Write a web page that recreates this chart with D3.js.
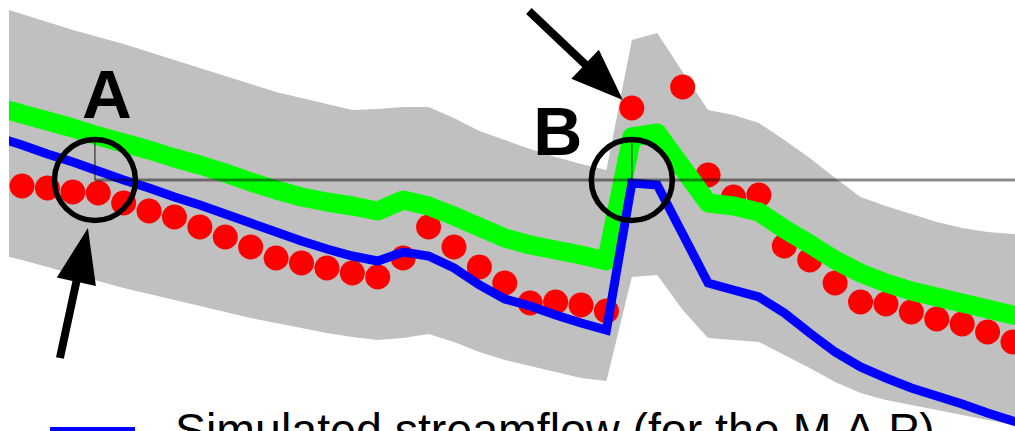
<!DOCTYPE html>
<html>
<head>
<meta charset="utf-8">
<script src="https://cdn.jsdelivr.net/npm/d3@7"></script>
<style>
  html, body { margin: 0; padding: 0; background: #fff; }
  svg { display: block; }
</style>
</head>
<body>
<svg id="chart" width="1015" height="431"></svg>
<script>
// ---- data: daily values, day -1 .. 40 ----
const days = d3.range(-1, 41);

// ensemble spread (upper / lower envelope)
const bandUpper = [43.4, 42.6, 41.8, 41.0, 40.3, 39.6, 38.8, 38.0, 37.2, 36.4, 35.6, 34.8, 34.2, 33.6,
  33.0, 33.1, 33.3, 33.3, 32.2, 30.9, 30.0, 29.1, 28.3, 27.6, 27.0, 40.0, 40.7, 36.8, 33.0, 32.5,
  31.7, 30.0, 28.2, 26.2, 24.3, 23.4, 22.6, 21.8, 21.2, 20.8, 20.6, 20.5];
const bandLower = [18.6, 18.0, 17.3, 16.6, 15.9, 15.2, 14.6, 14.0, 13.4, 12.8, 12.2, 11.7, 11.2, 10.7,
  10.3, 10.0, 10.2, 10.6, 9.8, 8.8, 8.0, 7.4, 6.8, 6.2, 5.9, 16.3, 16.5, 13.0, 10.2, 10.0,
  9.8, 8.5, 7.2, 5.8, 4.7, 4.0, 3.5, 3.0, 2.5, 2.0, 1.5, 1.0];

// ensemble mean (green)
const ensembleMean = [33.3, 32.6, 31.9, 31.2, 30.4, 29.7, 29.0, 28.2, 27.5, 26.7, 25.8, 25.0, 24.3, 23.8,
  23.4, 22.9, 24.0, 23.4, 22.4, 21.3, 20.2, 19.5, 19.0, 18.5, 17.9, 30.3, 30.7, 27.2, 23.7, 23.4,
  22.8, 21.1, 19.6, 18.0, 16.7, 15.7, 14.9, 14.3, 13.7, 13.1, 12.5, 12.0];

// simulated streamflow for the M.A.P (blue)
const mapFlow = [30.3, 29.5, 28.6, 27.8, 26.9, 26.0, 25.2, 24.3, 23.5, 22.6, 21.7, 20.8, 19.9, 19.1,
  18.4, 17.9, 18.8, 18.4, 17.2, 15.5, 14.1, 13.4, 12.5, 11.7, 11.0, 25.7, 25.5, 20.6, 15.7, 15.0,
  14.3, 12.7, 10.7, 8.8, 7.3, 6.2, 5.2, 4.4, 3.6, 2.7, 1.9, 1.2];

// observed streamflow, days 0 .. 39 (no record on day 25)
const obsDays = d3.range(0, 40);
const observed = [25.4, 25.2, 24.8, 24.7, 23.7, 22.9, 22.3, 21.3, 20.3, 19.3, 18.2, 17.7, 17.2, 16.7,
  16.3, 18.2, 21.3, 19.3, 17.3, 15.7, 13.7, 13.8, 13.5, 12.9, 33.2, null, 35.3, 26.5, 24.3, 24.5,
  19.4, 18.0, 15.7, 13.8, 13.6, 12.8, 12.1, 11.6, 10.8, 9.8];

// alert threshold and highlighted events
const threshold = 26.0;
const markerTop = 30.0;
const eventDays = [2.87, 24];
const eventLabels = ["A", "B"];
const legendLabels = ["Simulated streamflow (for the M.A.P)"];

// ---- drawing ----
const W = 1015, H = 431;
const svg = d3.select("#chart");
svg.append("rect").attr("width", W).attr("height", H).attr("fill", "#fff");

const x = d3.scaleLinear().domain([0, 39]).range([22, 1013]);
const y = d3.scaleLinear().domain([0, 44]).range([440, 0]);

svg.append("defs").append("clipPath").attr("id", "plot-clip")
  .append("rect").attr("x", 9).attr("y", 0).attr("width", W - 9).attr("height", H);

const plot = svg.append("g").attr("clip-path", "url(#plot-clip)");

const band = days.map((d, i) => ({ d, lo: bandLower[i], hi: bandUpper[i] }));
plot.append("path")
  .datum(band)
  .attr("fill", "#c0c0c0")
  .attr("d", d3.area().x(p => x(p.d)).y0(p => y(p.lo)).y1(p => y(p.hi)));

const obs = obsDays.map((d, i) => ({ d, v: observed[i] })).filter(p => p.v != null);
plot.append("g").selectAll("circle")
  .data(obs).join("circle")
  .attr("cx", p => x(p.d))
  .attr("cy", p => y(p.v))
  .attr("r", 12.5)
  .attr("fill", "#ff0000");

const line = d3.line().x(p => x(p.d)).y(p => y(p.v));

plot.append("path")
  .datum(days.map((d, i) => ({ d, v: ensembleMean[i] })))
  .attr("fill", "none")
  .attr("stroke", "#00ff00")
  .attr("stroke-width", 19)
  .attr("stroke-linejoin", "round")
  .attr("d", line);

plot.append("path")
  .datum(days.map((d, i) => ({ d, v: mapFlow[i] })))
  .attr("fill", "none")
  .attr("stroke", "#0000ff")
  .attr("stroke-width", 9)
  .attr("stroke-linejoin", "miter")
  .attr("d", line);

// threshold line starting at the first event
plot.append("line")
  .attr("x1", x(eventDays[0])).attr("x2", W)
  .attr("y1", y(threshold)).attr("y2", y(threshold))
  .attr("stroke", "#000").attr("stroke-opacity", 0.45).attr("stroke-width", 3);

// event markers
const ev = svg.append("g");
eventDays.forEach(d => {
  ev.append("line")
    .attr("x1", x(d)).attr("x2", x(d))
    .attr("y1", y(markerTop)).attr("y2", y(threshold))
    .attr("stroke", "#000").attr("stroke-opacity", 0.6).attr("stroke-width", 1.5);
  ev.append("circle")
    .attr("cx", x(d)).attr("cy", y(threshold)).attr("r", 40.5)
    .attr("fill", "none").attr("stroke", "#000").attr("stroke-width", 5.5);
});

// arrow as a closed polygon: shaft + triangular head
function arrowPath(x0, y0, x1, y1, headLen, headHalf, shaftHalf) {
  const dx = x1 - x0, dy = y1 - y0, len = Math.hypot(dx, dy);
  const ux = dx / len, uy = dy / len, nx = -uy, ny = ux;
  const bx = x1 - ux * headLen, by = y1 - uy * headLen;
  const pts = [
    [x0 + nx * shaftHalf, y0 + ny * shaftHalf],
    [bx + nx * shaftHalf, by + ny * shaftHalf],
    [bx + nx * headHalf, by + ny * headHalf],
    [x1, y1],
    [bx - nx * headHalf, by - ny * headHalf],
    [bx - nx * shaftHalf, by - ny * shaftHalf],
    [x0 - nx * shaftHalf, y0 - ny * shaftHalf]
  ];
  return "M" + pts.map(p => p.join(",")).join("L") + "Z";
}

const cxA = x(eventDays[0]), cyA = y(threshold);
const cxB = x(eventDays[1]), cyB = y(threshold);
const peakX = x(24), peakY = y(observed[24]);

ev.append("path").attr("fill", "#000")
  .attr("d", arrowPath(cxA - 35, cyA + 178, cxA - 7, cyA + 48, 55, 20, 4));
ev.append("path").attr("fill", "#000")
  .attr("d", arrowPath(peakX - 103, peakY - 97, peakX - 9, peakY - 8, 52, 20, 4));

ev.append("text")
  .attr("x", cxA + 12).attr("y", cyA - 62)
  .attr("text-anchor", "middle")
  .attr("font-family", "'Liberation Sans', Arial, Helvetica, sans-serif")
  .attr("font-weight", "bold").attr("font-size", 69)
  .text(eventLabels[0]);
ev.append("text")
  .attr("x", cxB - 74).attr("y", cyB - 25)
  .attr("text-anchor", "middle")
  .attr("font-family", "'Liberation Sans', Arial, Helvetica, sans-serif")
  .attr("font-weight", "bold").attr("font-size", 68)
  .text(eventLabels[1]);

// legend
const lg = svg.append("g");
lg.append("line")
  .attr("x1", 50).attr("x2", 135).attr("y1", 431.5).attr("y2", 431.5)
  .attr("stroke", "#0000ff").attr("stroke-width", 9);
lg.append("text")
  .attr("x", 175).attr("y", 446)
  .attr("font-family", "'Liberation Sans', Arial, Helvetica, sans-serif")
  .attr("font-size", 46.5).attr("fill", "#000")
  .text(legendLabels[0]);
</script>
</body>
</html>
